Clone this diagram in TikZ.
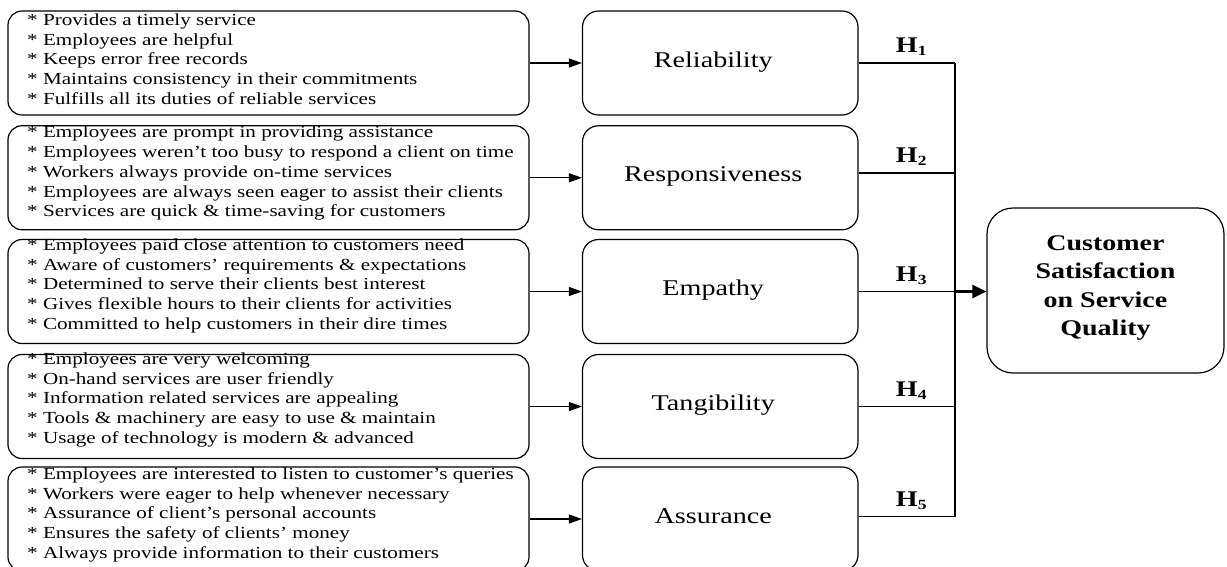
\documentclass[tikz,border=0pt]{standalone}
\usepackage{fontspec}
\setmainfont{Liberation Serif}[FakeStretch=1.25]
\usetikzlibrary{arrows.meta,calc}
\newcommand{\mlab}[1]{\rule[-8pt]{0pt}{24pt}#1\hspace*{14pt}}
\newcommand{\hsub}[1]{H\raisebox{-3pt}{\fontsize{14}{14}\selectfont #1}}
\begin{document}
\begin{tikzpicture}[x=1pt,y=-1pt,
  lbox/.style={draw, line width=1.2pt, rounded corners=14pt, minimum width=521pt, minimum height=104pt, inner sep=0pt},
  ltxt/.style={anchor=north west, inner sep=0pt, align=left, font=\fontsize{16.9}{19.8}\selectfont},
  mbox/.style={draw, line width=1.2pt, rounded corners=16pt, minimum width=275.5pt, minimum height=104pt, inner sep=0pt, font=\fontsize{22.5}{27}\selectfont},
  cbox/.style={draw, line width=1.2pt, rounded corners=26pt, minimum width=237pt, minimum height=165pt, inner sep=0pt, align=center, font=\bfseries\fontsize{22.4}{28.3}\selectfont},
  larrow/.style={line width=1.1pt, -{Triangle[length=13pt,width=9pt]}},
  conn/.style={line width=1.1pt},
  bigarrow/.style={line width=2.2pt, -{Triangle[length=14pt,width=13pt]}},
  hlab/.style={pos=0.546, anchor=base, yshift=10.5pt, inner sep=0pt, font=\bfseries\fontsize{22.4}{24}\selectfont}
]
\useasboundingbox (0,0) rectangle (1227,566);
\clip (0,0) rectangle (1227,566);

% left boxes
\node[lbox] (L1) at (268.5,63) {};
\node[lbox] (L2) at (268.5,177.75) {};
\node[lbox] (L3) at (268.5,291.5) {};
\node[lbox] (L4) at (268.5,406.5) {};
\node[lbox] (L5) at (268.5,519) {};

\node[ltxt] (T1) at (27,12) {\rule{0pt}{13pt}* Provides a timely service\\
* Employees are helpful\\
* Keeps error free records\\
* Maintains consistency in their commitments\\
* Fulfills all its duties of reliable services};
\node[ltxt] (T2) at (27,124.5) {\rule{0pt}{13pt}* Employees are prompt in providing assistance\\
* Employees weren’t too busy to respond a client on time\\
* Workers always provide on-time services\\
* Employees are always seen eager to assist their clients\\
* Services are quick \& time-saving for customers};
\node[ltxt] (T3) at (27,237) {\rule{0pt}{13pt}* Employees paid close attention to customers need\\
* Aware of customers’ requirements \& expectations\\
* Determined to serve their clients best interest\\
* Gives flexible hours to their clients for activities\\
* Committed to help customers in their dire times};
\node[ltxt] (T4) at (27,351) {\rule{0pt}{13pt}* Employees are very welcoming\\
* On-hand services are user friendly\\
* Information related services are appealing\\
* Tools \& machinery are easy to use \& maintain\\
* Usage of technology is modern \& advanced};
\node[ltxt] (T5) at (27,466) {\rule{0pt}{13pt}* Employees are interested to listen to customer’s queries\\
* Workers were eager to help whenever necessary\\
* Assurance of client’s personal accounts\\
* Ensures the safety of clients’ money\\
* Always provide information to their customers};

% middle boxes
\node[mbox] (M1) at (720.25,63) {\mlab{Reliability}};
\node[mbox] (M2) at (720.25,177.75) {\mlab{Responsiveness}};
\node[mbox] (M3) at (720.25,291.5) {\mlab{Empathy}};
\node[mbox] (M4) at (720.25,406.5) {\mlab{Tangibility}};
\node[mbox] (M5) at (720.25,519) {\mlab{Assurance}};

% outcome box
\node[cbox] (C) at (1105.5,290.5) {Customer\\Satisfaction\\on Service\\Quality\rule[-9.6pt]{0pt}{1pt}};

% left arrows
\foreach \i in {1,...,5} {\draw[larrow] (L\i.east) -- (M\i.west);}

% hypotheses connectors
\coordinate (J) at (955,291.5);
\coordinate (E1) at (M1.east);
\coordinate (E2) at ([yshift=4.75pt]M2.east);
\coordinate (E4) at (M4.east);
\coordinate (E5) at ([yshift=2.3pt]M5.east);
\draw[conn] (E1) -- node[hlab]{\hsub{1}} (E1 -| J);
\draw[conn] (E2) -- node[hlab]{\hsub{2}} (E2 -| J);
\draw[conn] (M3.east) -- node[hlab]{\hsub{3}} (J);
\draw[conn] (E4) -- node[hlab]{\hsub{4}} (E4 -| J);
\draw[conn] (E5) -- node[hlab]{\hsub{5}} (E5 -| J);
\draw[conn] (E1 -| J) -- (E5 -| J);
\draw[bigarrow] (J) -- (C.west |- J);
\end{tikzpicture}
\end{document}
